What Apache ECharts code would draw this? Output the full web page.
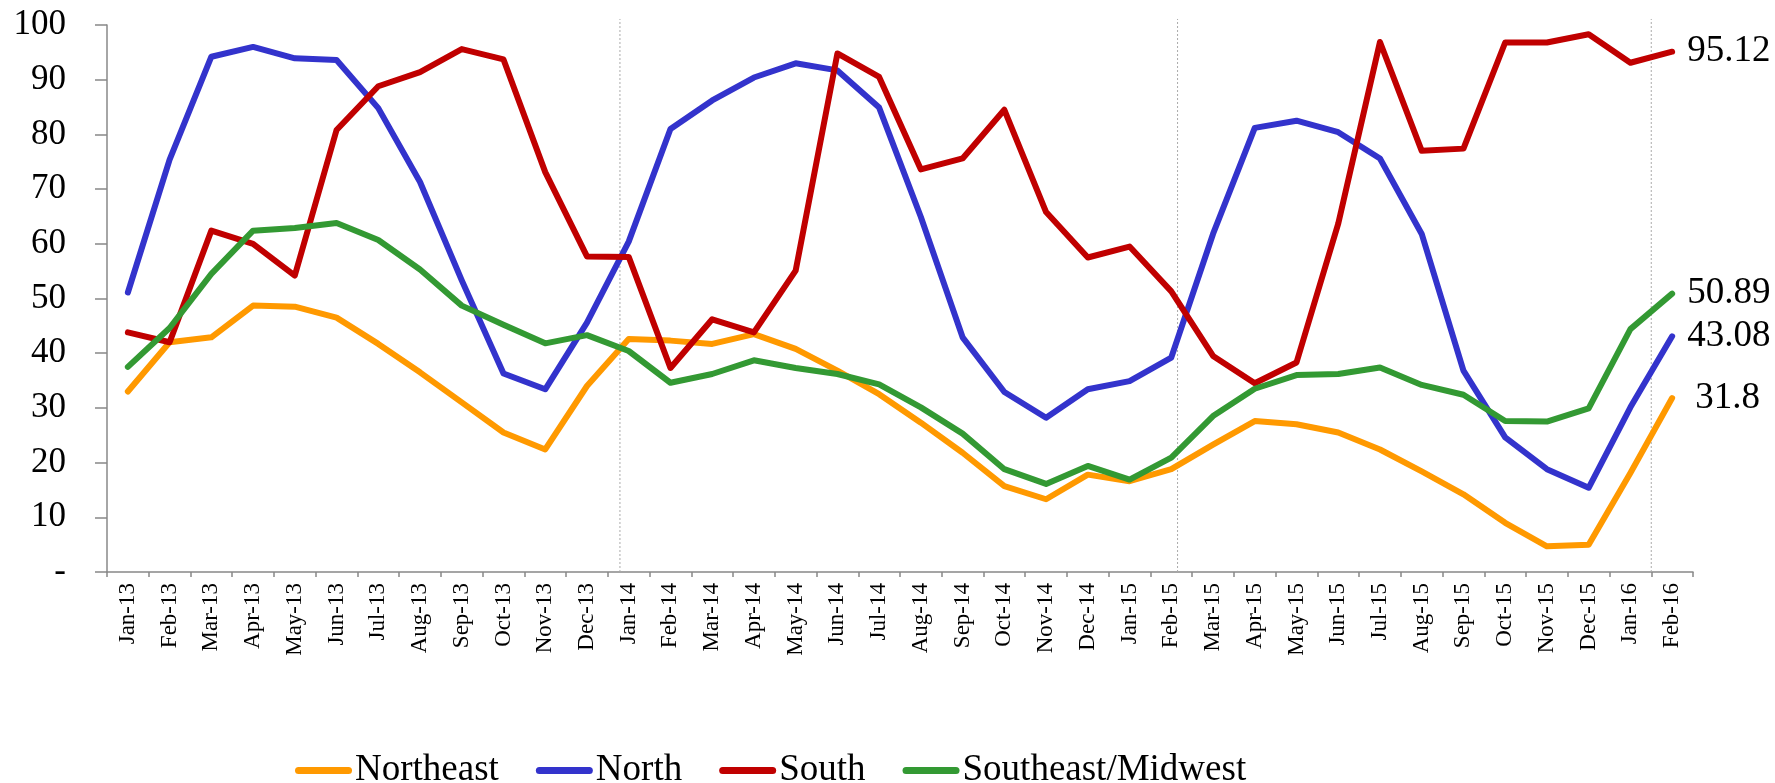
<!DOCTYPE html>
<html>
<head>
<meta charset="utf-8">
<script src="https://cdn.jsdelivr.net/npm/echarts@6/dist/echarts.min.js"></script>
<style>
  html, body { margin: 0; padding: 0; background: #fff; }
  #chart { width: 1775px; height: 783px; }
</style>
</head>
<body>
<div id="chart"></div>
<script>
// Monthly categories
const months = [
  'Jan-13','Feb-13','Mar-13','Apr-13','May-13','Jun-13','Jul-13','Aug-13','Sep-13','Oct-13','Nov-13','Dec-13',
  'Jan-14','Feb-14','Mar-14','Apr-14','May-14','Jun-14','Jul-14','Aug-14','Sep-14','Oct-14','Nov-14','Dec-14',
  'Jan-15','Feb-15','Mar-15','Apr-15','May-15','Jun-15','Jul-15','Aug-15','Sep-15','Oct-15','Nov-15','Dec-15',
  'Jan-16','Feb-16'
];

// Regional series
const northeast = [
  33, 42, 42.9, 48.7, 48.5, 46.5, 41.7, 36.5, 31, 25.5, 22.4, 34,
  42.6, 42.3, 41.7, 43.5, 40.8, 36.8, 32.5, 27.3, 21.8, 15.7, 13.3, 17.8,
  16.6, 18.8, 23.3, 27.6, 27, 25.5, 22.4, 18.4, 14.2, 9, 4.7, 5,
  18.1, 31.8
];
const north = [
  51.1, 75.4, 94.2, 96, 93.9, 93.6, 84.8, 71.3, 53.3, 36.3, 33.4, 45.6,
  60.4, 81, 86.2, 90.4, 93, 91.7, 84.9, 64.9, 42.9, 32.9, 28.2, 33.4,
  34.9, 39.2, 61.8, 81.2, 82.5, 80.4, 75.6, 61.8, 36.8, 24.6, 18.8, 15.4,
  30.1, 43.08
];
const south = [
  43.8, 42, 62.4, 60, 54.2, 80.8, 88.8, 91.4, 95.6, 93.7, 73.1, 57.7,
  57.6, 37.3, 46.2, 43.8, 55.1, 94.8, 90.5, 73.6, 75.6, 84.5, 65.8, 57.5,
  59.5, 51.3, 39.5, 34.5, 38.3, 63.7, 96.9, 77, 77.4, 96.8, 96.8, 98.3,
  93.1, 95.12
];
const southeastMidwest = [
  37.5, 44.6, 54.5, 62.4, 62.9, 63.8, 60.7, 55.3, 48.7, 45.2, 41.8, 43.3,
  40.4, 34.6, 36.2, 38.7, 37.3, 36.2, 34.3, 30.1, 25.3, 18.8, 16.1, 19.4,
  16.9, 20.9, 28.5, 33.5, 36, 36.2, 37.4, 34.2, 32.4, 27.6, 27.5, 29.9,
  44.4, 50.89
];

// Y-axis tick values and dotted divider positions (in month units from the axis start)
const yTicks = [0, 10, 20, 30, 40, 50, 60, 70, 80, 90, 100];
const dividers = [12.29, 25.65, 37];
const dividerTop = 101.1;

const serif = 'Liberation Serif, Times New Roman, serif';
const chart = echarts.init(document.getElementById('chart'));

function regionSeries(name, data, color, labelGap) {
  return {
    name: name,
    type: 'line',
    data: data,
    xAxisIndex: 0,
    yAxisIndex: 0,
    symbol: 'none',
    lineStyle: { color: color, width: 6, cap: 'round', join: 'round' },
    itemStyle: { color: color },
    endLabel: {
      show: true,
      formatter: p => String(p.value),
      distance: labelGap,
      color: '#000',
      fontFamily: serif,
      fontSize: 37
    }
  };
}

// Vertical dotted dividers as broken line segments on a hidden value x-axis
const dividerData = [];
dividers.forEach(d => {
  dividerData.push([d, 0], [d, dividerTop], ['-', '-']);
});

chart.setOption({
  animation: false,
  backgroundColor: '#fff',
  grid: { left: 107, right: 82, top: 25, bottom: 211, containLabel: false },
  legend: {
    data: ['Northeast', 'North', 'South', 'Southeast/Midwest'],
    left: 290,
    top: 747,
    itemGap: 37,
    itemWidth: 57,
    itemHeight: 7,
    icon: 'path://M3.5,0 L53.5,0 A3.5,3.5 0 0 1 53.5,7 L3.5,7 A3.5,3.5 0 0 1 3.5,0 Z',
    textStyle: { fontFamily: serif, fontSize: 37, color: '#000', padding: [0, 0, 0, -2] }
  },
  xAxis: [
    {
      type: 'category',
      data: months,
      boundaryGap: true,
      axisLine: { lineStyle: { color: '#888', width: 1.5 } },
      axisTick: { show: true, length: 5, interval: 0, lineStyle: { color: '#888', width: 1.5 } },
      axisLabel: {
        interval: 0,
        rotate: 90,
        margin: 11,
        color: '#000',
        fontFamily: serif,
        fontSize: 23
      },
      splitLine: { show: false }
    },
    {
      type: 'value',
      min: 0,
      max: months.length,
      show: false
    }
  ],
  yAxis: {
    type: 'value',
    min: 0,
    max: 100,
    interval: 10,
    axisLine: { show: true, lineStyle: { color: '#888', width: 1.5 } },
    axisTick: { show: true, length: 12, inside: false, lineStyle: { color: '#888', width: 1.5 } },
    axisLabel: {
      margin: 41,
      color: '#000',
      fontFamily: serif,
      fontSize: 35,
      formatter: v => (yTicks.indexOf(v) === 0 ? '-' : String(v))
    },
    splitLine: { show: false }
  },
  series: [
    {
      name: 'dividers',
      type: 'line',
      xAxisIndex: 1,
      yAxisIndex: 0,
      data: dividerData,
      symbol: 'none',
      silent: true,
      clip: false,
      connectNulls: false,
      lineStyle: { color: '#aaa', width: 1, type: [2, 2] },
      z: 1
    },
    regionSeries('Northeast', northeast, '#FF9900', 23),
    regionSeries('North', north, '#3333CC', 15),
    regionSeries('South', south, '#C00000', 15),
    regionSeries('Southeast/Midwest', southeastMidwest, '#339933', 15)
  ]
});
</script>
</body>
</html>
